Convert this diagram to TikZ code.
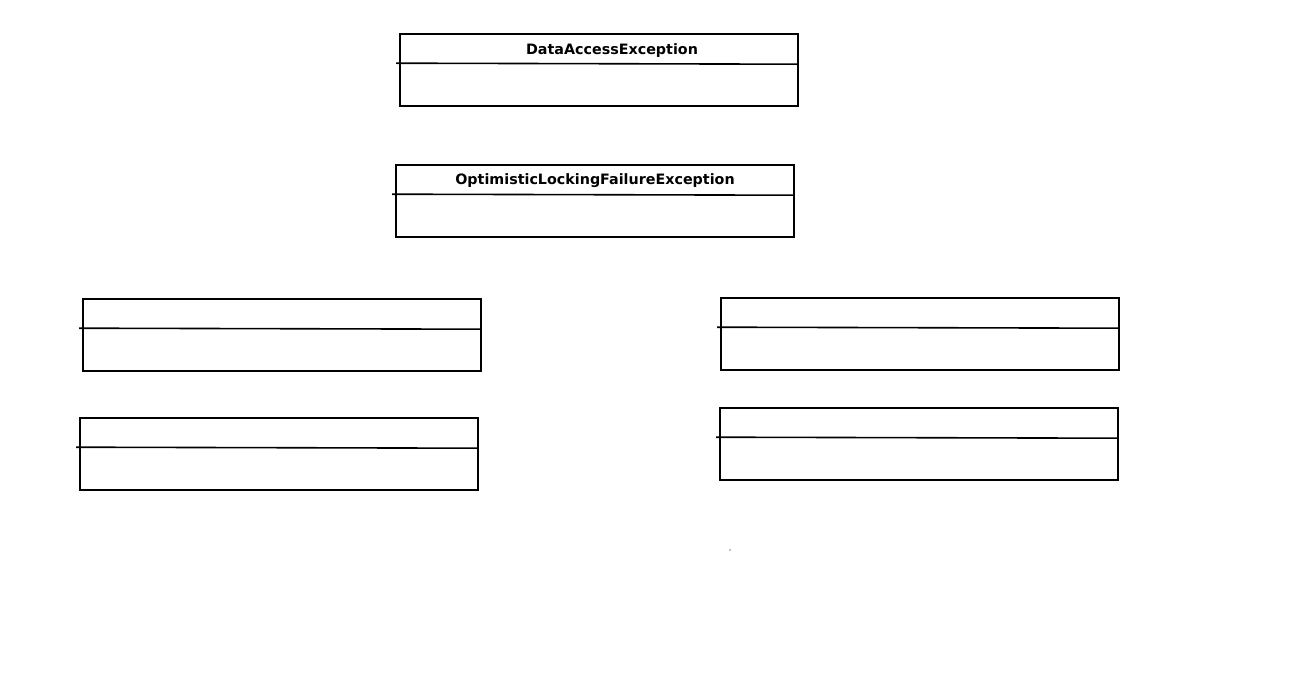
\documentclass[tikz,border=0pt]{standalone}
\usepackage{fontspec}
\setmainfont{DejaVu Sans}
\usepackage{tikz}
\usetikzlibrary{positioning}

\begin{document}
\begin{tikzpicture}[x=1pt,y=-1pt]
    %styles
    \tikzstyle{klass}=[rectangle,draw,line width=1.6pt,minimum width=398pt,minimum height=72pt,inner sep=0pt]
    \tikzstyle{title}=[font=\fontsize{14.3}{16}\selectfont\bfseries,inner sep=0pt]
    \tikzstyle{split}=[line width=1.6pt]
    \useasboundingbox (0,0) rectangle (1303,676);
    %nodes
    \node[klass] (dae) at (599,70) {};
    \node[klass] (olfe) at (595,201) {};
    \node[klass] (left1) at (282,335) {};
    \node[klass] (right1) at (920,334) {};
    \node[klass] (left2) at (279,454) {};
    \node[klass] (right2) at (919,444) {};

    \node[title] (t1) at (612,50.5) {DataAccessException};
    \node[title] (t2) at (595,180.5) {OptimisticLockingFailureException};

    %dividers
    \foreach \k in {dae,olfe,left1,right1,left2,right2}
        \draw[split] ([xshift=-3pt,yshift=-30pt]\k.north west) -- ([yshift=-31pt]\k.north east);

    \fill (730,550) circle (0.6pt);
\end{tikzpicture}
\end{document}
